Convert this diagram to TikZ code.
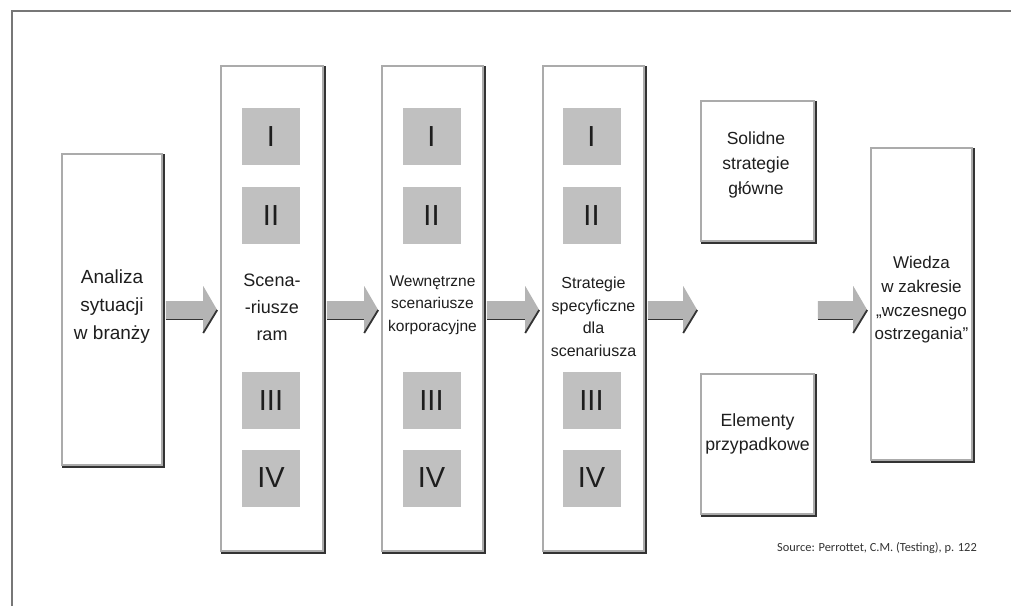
\documentclass[tikz,border=0pt]{standalone}
\usepackage{fontspec}
\setmainfont{Liberation Sans}
\newfontfamily\notefont{Carlito}
\usetikzlibrary{calc}
\definecolor{rimgray}{HTML}{ABABAB}
\definecolor{rimdark}{HTML}{333333}
\definecolor{tilegray}{HTML}{C0C0C0}
\definecolor{arrowgray}{HTML}{B4B4B4}
\definecolor{inkgray}{HTML}{1E1E1E}
\definecolor{framegray}{HTML}{777777}

\tikzset{
  panel/.style={rectangle, draw=rimgray, line width=1.6pt, fill=white, inner sep=0pt,
    preaction={draw=rimdark, line width=2.6pt, transform canvas={shift={(1.6,1.6)}}}},
  tile/.style={rectangle, fill=tilegray, inner sep=0pt, minimum width=58pt, minimum height=57pt,
    text=inkgray, font=\fontsize{29}{29}\selectfont},
  caption/.style={align=center, text=inkgray, inner sep=0pt},
}

% block arrow between two anchors, on the common axis
\newcommand\flowarrow[2]{%
  \coordinate (fa-s) at ($(#1 |- axis)+(3,0)$);
  \coordinate (fa-t) at ($(#2 |- axis)+(-3,0)$);
  \fill[arrowgray] ($(fa-s)+(0,-9)$) -- ($(fa-t)+(-14,-9)$) -- ($(fa-t)+(-14,-24)$)
    -- (fa-t) -- ($(fa-t)+(-14,23)$) -- ($(fa-t)+(-14,9)$) -- ($(fa-s)+(0,9)$) -- cycle;
  \draw[rimdark, line width=1.8pt] ($(fa-s)+(0,9.5)$) -- ($(fa-t)+(-14,9.5)$);
  \draw[rimdark, line width=1.8pt] ($(fa-t)+(-14,23)$) -- (fa-t);
}

\begin{document}
\begin{tikzpicture}[x=1pt, y=-1pt]
  \useasboundingbox (0,0) rectangle (1011,606);
  \fill[white] (0,0) rectangle (1011,606);

  % page frame
  \draw[framegray, line width=1.6pt] (12,606) -- (12,11) -- (1011,11);

  \coordinate (axis) at (0,310);

  % main stages
  \node[panel, minimum width=100pt, minimum height=311pt] (ana) at (112,309.5) {};
  \node[panel, minimum width=102pt, minimum height=485pt] (scen) at (272,308.5) {};
  \node[panel, minimum width=101pt, minimum height=485pt] (wew) at (432.5,308.5) {};
  \node[panel, minimum width=101pt, minimum height=485pt] (str) at (593.5,308.5) {};
  \node[panel, minimum width=113pt, minimum height=140pt] (sol) at (757.5,171) {};
  \node[panel, minimum width=113pt, minimum height=140pt] (ele) at (757.5,444) {};
  \node[panel, minimum width=101pt, minimum height=312pt] (wie) at (921.5,304) {};

  % scenario tiles
  \foreach \col/\cx in {s/271, w/431.5, t/591.5}{
    \node[tile] (\col1) at (\cx,136.5) {I};
    \node[tile] (\col2) at (\cx,215.5) {II};
    \node[tile] (\col3) at (\cx,400.5) {III};
    \node[tile] (\col4) at (\cx,478) {IV};
  }

  % captions
  \node[caption, font=\fontsize{19}{28}\selectfont] (tana) at (112,307) {Analiza\\sytuacji\\w branży};
  \node[caption, font=\fontsize{18}{27}\selectfont] (tscen) at (272,307) {Scena-\\-riusze\\ram};
  \node[caption, font=\fontsize{15.5}{22.5}\selectfont] (twew) at (432.5,305) {Wewnętrzne\\scenariusze\\korporacyjne};
  \node[caption, font=\fontsize{16}{22.5}\selectfont] (tstr) at (593.5,317) {Strategie\\specyficzne\\dla\\scenariusza};
  \node[caption, font=\fontsize{17.5}{25}\selectfont] (tsol) at (756,165) {Solidne\\strategie\\główne};
  \node[caption, font=\fontsize{17.7}{24.5}\selectfont] (tele) at (757.5,434) {Elementy\\przypadkowe};
  \node[caption, font=\fontsize{17}{23.7}\selectfont] (twie) at (921.5,300) {Wiedza\\w zakresie\\„wczesnego\\ostrzegania”};

  % flow
  \flowarrow{ana.east}{scen.west}
  \flowarrow{scen.east}{wew.west}
  \flowarrow{wew.east}{str.west}
  \flowarrow{str.east}{sol.west}
  \flowarrow{sol.east}{wie.west}

  % reference line
  \node[anchor=base east, inner sep=0pt, text=rimdark, font=\notefont\fontsize{12.4}{14}\selectfont]
    (src) at (977,551) {Source: Perrottet, C.M. (Testing), p. 122};
\end{tikzpicture}
\end{document}
